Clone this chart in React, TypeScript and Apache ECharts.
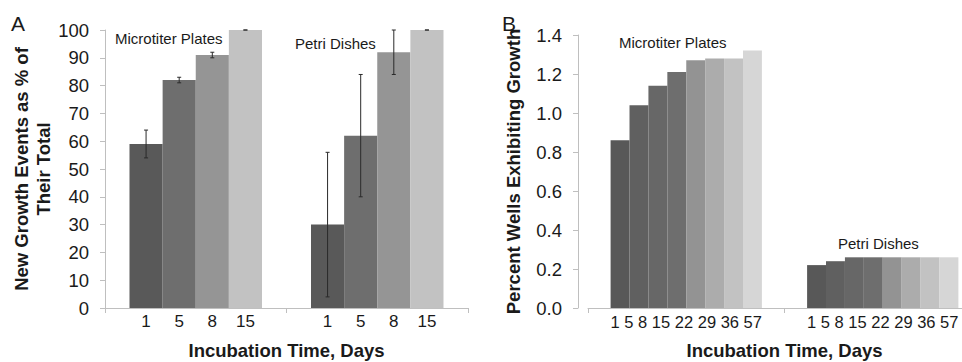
import React, { useEffect, useRef } from "react";
import * as echarts from "echarts";

const groupsA = ["Microtiter Plates", "Petri Dishes"];
const daysA = ["1", "5", "8", "15"];
// values per day: [Microtiter, Petri]
const valuesA = [
  [59, 30],
  [82, 62],
  [91, 92],
  [100, 100],
];
// error bars [groupIndex, dayIndex, low, high]
const errorsA = [
  [0, 0, 54, 64],
  [0, 1, 81, 83],
  [0, 2, 90, 92],
  [0, 3, 100, 100],
  [1, 0, 4, 56],
  [1, 1, 40, 84],
  [1, 2, 84, 100],
  [1, 3, 100, 100],
];
const colorsA = ["#595959", "#6e6e6e", "#959595", "#c2c2c2"];

const groupsB = ["Microtiter Plates", "Petri Dishes"];
const daysB = ["1", "5", "8", "15", "22", "29", "36", "57"];
const microB = [0.86, 1.04, 1.14, 1.21, 1.27, 1.28, 1.28, 1.32];
const petriB = [0.22, 0.24, 0.26, 0.26, 0.26, 0.26, 0.26, 0.26];
const colorsB = ["#585858", "#606060", "#676767", "#6e6e6e", "#939393", "#acacac", "#c2c2c2", "#d6d6d6"];

const FONT = "'Liberation Sans', Arial, sans-serif";
const GAP_A = 0.27;
const GAP_B = 0.23;

export default function App() {
  const ref = useRef<HTMLDivElement>(null);
  useEffect(() => {
    document.body.style.margin = "0";
    const chart = echarts.init(ref.current!, null, { renderer: "svg" });
    const axisLine = { show: true, lineStyle: { color: "#bfbfbf", width: 1 } };
    const axisTick = { show: true, length: 5, lineStyle: { color: "#bfbfbf" } };
    const nameStyle = { fontFamily: FONT, fontSize: 18.5, fontWeight: "bold", color: "#1a1a1a", lineHeight: 22 };
    const xNameStyle = { fontFamily: FONT, fontSize: 18.5, fontWeight: "bold", color: "#1a1a1a" };
    const labelStyle = { fontFamily: FONT, fontSize: 18.5, color: "#1a1a1a" };

    const barsA = daysA.map((d, i) => ({
      name: d,
      type: "bar",
      xAxisIndex: 0,
      yAxisIndex: 0,
      barGap: "0%",
      barCategoryGap: GAP_A * 100 + "%",
      itemStyle: { color: colorsA[i] },
      label: {
        show: true,
        position: "bottom",
        distance: 5,
        formatter: () => d,
        fontFamily: FONT,
        fontSize: 17,
        color: "#1a1a1a",
      },
      data: valuesA[i],
    }));

    const barsB = daysB.map((d, i) => ({
      name: "B" + d,
      type: "bar",
      xAxisIndex: 1,
      yAxisIndex: 1,
      barGap: "0%",
      barCategoryGap: GAP_B * 100 + "%",
      itemStyle: { color: colorsB[i] },
      data: [microB[i], petriB[i]],
    }));

    const errorSeries = {
      type: "custom",
      xAxisIndex: 0,
      yAxisIndex: 0,
      z: 10,
      encode: { x: 0, y: [2, 3] },
      data: errorsA,
      renderItem: (params: any, api: any) => {
        const cat = api.value(0);
        const idx = api.value(1);
        const low = api.value(2);
        const high = api.value(3);
        const center = api.coord([cat, 0]);
        const band = api.size([1, 0])[0];
        const group = band * (1 - GAP_A);
        const bw = group / daysA.length;
        const x = center[0] - group / 2 + (idx + 0.5) * bw;
        const yl = api.coord([cat, low])[1];
        const yh = api.coord([cat, high])[1];
        const st = { stroke: "#2a2a2a", lineWidth: 1 };
        return {
          type: "group",
          children: [
            { type: "line", shape: { x1: x, y1: yl, x2: x, y2: yh }, style: st },
            { type: "line", shape: { x1: x - 2, y1: yl, x2: x + 2, y2: yl }, style: st },
            { type: "line", shape: { x1: x - 2, y1: yh, x2: x + 2, y2: yh }, style: st },
          ],
        };
      },
    };

    const txt = (text: string, x: number, y: number, size: number) => ({
      type: "text",
      x,
      y,
      style: { text, fontFamily: FONT, fontSize: size, fill: "#1a1a1a", textVerticalAlign: "middle" },
    });

    chart.setOption({
      animation: false,
      backgroundColor: "#ffffff",
      grid: [
        { left: 105, top: 30, width: 363, height: 278, outerBoundsMode: "none", containLabel: false },
        { left: 588, top: 35, width: 393, height: 273, outerBoundsMode: "none", containLabel: false },
      ],
      xAxis: [
        {
          type: "category",
          gridIndex: 0,
          data: groupsA,
          axisLine,
          axisTick,
          axisLabel: { show: false },
          name: "Incubation Time, Days",
          nameLocation: "middle",
          nameGap: 33,
          nameTextStyle: xNameStyle,
        },
        {
          type: "category",
          gridIndex: 1,
          data: groupsB,
          axisLine,
          axisTick,
          axisLabel: {
            show: true,
            interval: 0,
            hideOverlap: false,
            margin: 5,
            fontFamily: FONT,
            fontSize: 16.5,
            color: "#1a1a1a",
            formatter: () => daysB.join(" "),
          },
          name: "Incubation Time, Days",
          nameLocation: "middle",
          nameGap: 33,
          nameTextStyle: xNameStyle,
        },
      ],
      yAxis: [
        {
          type: "value",
          gridIndex: 0,
          min: 0,
          max: 100,
          interval: 10,
          splitLine: { show: false },
          axisLine,
          axisTick,
          axisLabel: { ...labelStyle, margin: 16 },
          name: "New Growth Events as % of\nTheir Total",
          nameLocation: "middle",
          nameRotate: 90,
          nameGap: 51,
          nameTextStyle: nameStyle,
        },
        {
          type: "value",
          gridIndex: 1,
          min: 0,
          max: 1.4,
          interval: 0.2,
          offset: 10,
          splitLine: { show: false },
          axisLine,
          axisTick,
          axisLabel: { ...labelStyle, margin: 16, formatter: (v: number) => v.toFixed(1) },
          name: "Percent Wells Exhibiting Growth",
          nameLocation: "middle",
          nameRotate: 90,
          nameGap: 54,
          nameTextStyle: nameStyle,
        },
      ],
      series: [...barsA, errorSeries, ...barsB],
      graphic: [
        txt("A", 11, 23, 21),
        txt("B", 502, 23, 21),
        txt("Microtiter Plates", 115, 38, 15),
        txt("Petri Dishes", 295, 43, 15),
        txt("Microtiter Plates", 619, 42, 15),
        txt("Petri Dishes", 838, 243, 15),
      ],
    });
    return () => chart.dispose();
  }, []);
  return <div ref={ref} style={{ width: 962, height: 362 }} />;
}
